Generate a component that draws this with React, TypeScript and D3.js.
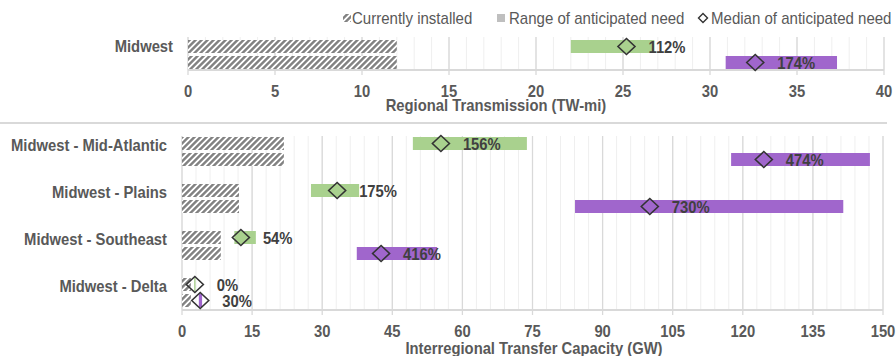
import React from "react";
import * as d3 from "d3";

// ---------- data ----------
const regionCategories = ["Midwest"];
const regionInstalled = [12.0];
const regionGreenLow = [22.0];
const regionGreenHigh = [26.8];
const regionGreenMedian = [25.2];
const regionGreenLabel = ["112%"];
const regionPurpleLow = [30.9];
const regionPurpleHigh = [37.3];
const regionPurpleMedian = [32.6];
const regionPurpleLabel = ["174%"];
const regionTicks = [0, 5, 10, 15, 20, 25, 30, 35, 40];

const categories = ["Midwest - Mid-Atlantic", "Midwest - Plains", "Midwest - Southeast", "Midwest - Delta"];
const installed = [21.8, 12.2, 8.3, 1.9];
const greenLow = [49.4, 27.6, 11.2, 2.6];
const greenHigh = [73.8, 37.9, 15.8, 2.9];
const greenMedian = [55.4, 33.2, 12.6, 2.75];
const greenLabel = ["156%", "175%", "54%", "0%"];
const purpleLow = [117.5, 84.1, 37.4, 3.6];
const purpleHigh = [147.2, 141.5, 54.6, 4.3];
const purpleMedian = [124.5, 100.1, 42.6, 3.9];
const purpleLabel = ["474%", "730%", "416%", "30%"];
const transferTicks = [0, 15, 30, 45, 60, 75, 90, 105, 120, 135, 150];

const legendLabels = ["Currently installed", "Range of anticipated need", "Median of anticipated need"];

// ---------- styles ----------
const FONT = "'Liberation Sans', Arial, sans-serif";
const GREEN = "#a9d18e";
const PURPLE = "#a066cc";
const TEXT = "#595959";
const LABEL = "#404040";
const GRID_MAJOR = "#d9d9d9";
const GRID_MINOR = "#efefef";
const SX = 0.87;

function T({ x, y, anchor = "start", size = 17, bold = true, fill = TEXT, sx = SX, children }: any) {
  return (
    <text
      transform={`translate(${x},${y}) scale(${sx},1)`}
      textAnchor={anchor}
      fontWeight={bold ? "bold" : "normal"}
      fontSize={size}
      fill={fill}
    >
      {children}
    </text>
  );
}

function Diamond({ x, y }: { x: number; y: number }) {
  const rx = 8.5;
  const ry = 8;
  return (
    <path
      d={`M${x},${y - ry}L${x + rx},${y}L${x},${y + ry}L${x - rx},${y}Z`}
      fill="none"
      stroke="#333"
      strokeWidth={1.6}
    />
  );
}

function Grid({ x, minorStep, majorTicks, y0, y1 }: any) {
  const [d0, d1] = x.domain();
  const minor = d3.range(d0, d1 + 1e-9, minorStep);
  return (
    <g>
      {minor.map((v: number) => (
        <line key={"m" + v} x1={x(v)} x2={x(v)} y1={y0} y2={y1} stroke={GRID_MINOR} strokeWidth={1} />
      ))}
      {majorTicks.map((v: number) => (
        <line key={"M" + v} x1={x(v)} x2={x(v)} y1={y0} y2={y1} stroke={GRID_MAJOR} strokeWidth={1.3} />
      ))}
    </g>
  );
}

function Axis({ x, ticks, y, tickY }: any) {
  const [r0, r1] = x.range();
  return (
    <g>
      <line x1={r0} x2={r1} y1={y} y2={y} stroke={GRID_MAJOR} strokeWidth={2} />
      {ticks.map((v: number) => (
        <g key={v}>
          <line x1={x(v)} x2={x(v)} y1={y} y2={y + 5} stroke={GRID_MAJOR} strokeWidth={1.3} />
          <T x={x(v)} y={tickY} anchor="middle">
            {v}
          </T>
        </g>
      ))}
    </g>
  );
}

function Rows({ x, cy, inst, gl, gh, gm, glab, pl, ph, pm, plab }: any) {
  const h = 13;
  const gy = cy - 14;
  const py = cy + 2;
  return (
    <g>
      <rect x={x(0)} y={gy} width={x(inst) - x(0)} height={h} fill="url(#hatch)" />
      <rect x={x(0)} y={py} width={x(inst) - x(0)} height={h} fill="url(#hatch)" />
      <rect x={x(gl)} y={gy} width={Math.max(1, x(gh) - x(gl))} height={h} fill={GREEN} />
      <rect x={x(pl)} y={py} width={Math.max(1, x(ph) - x(pl))} height={h} fill={PURPLE} />
      <Diamond x={x(gm)} y={gy + h / 2} />
      <Diamond x={x(pm)} y={py + h / 2} />
      <T x={x(gm) + 22} y={gy + h / 2 + 6.5} fill={LABEL}>
        {glab}
      </T>
      <T x={x(pm) + 22} y={py + h / 2 + 6.5} fill={LABEL}>
        {plab}
      </T>
    </g>
  );
}

export default function App() {
  const W = 896;
  const H = 356;

  // top panel
  const xTop = d3.scaleLinear().domain([0, 40]).range([188, 884]);
  const yTop = d3.scaleBand().domain(regionCategories).range([37, 70]);
  // bottom panel
  const xBot = d3.scaleLinear().domain([0, 150]).range([182, 883]);
  const yBot = d3.scaleBand().domain(categories).range([127.5, 315.5]);

  return (
    <svg width={W} height={H} style={{ position: "absolute", left: 0, top: 0 }} fontFamily={FONT}>
      <defs>
        <pattern id="hatch" patternUnits="userSpaceOnUse" width={4.24} height={4.24} patternTransform="rotate(45)">
          <rect x={0} y={0} width={4.24} height={4.24} fill="#fff" />
          <rect x={0} y={0} width={2.4} height={4.24} fill="#7f7f7f" />
        </pattern>
      </defs>
      <rect width={W} height={H} fill="#fff" />

      {/* legend */}
      <g>
        <rect x={343} y={14} width={8} height={8} fill="url(#hatch)" />
        <T x={352} y={24} bold={false} size={16} sx={0.94}>{legendLabels[0]}</T>
        <rect x={497} y={14} width={8} height={8} fill="#bfbfbf" />
        <T x={509} y={24} bold={false} size={16} sx={0.94}>{legendLabels[1]}</T>
        <path d="M703,13.5L707.5,18L703,22.5L698.5,18Z" fill="none" stroke="#333" strokeWidth={1.4} />
        <T x={711} y={24} bold={false} size={16} sx={0.94}>{legendLabels[2]}</T>
      </g>

      {/* top panel */}
      <Grid x={xTop} minorStep={1} majorTicks={regionTicks} y0={37} y1={70} />
      <Axis x={xTop} ticks={regionTicks} y={70} tickY={97} />
      {regionCategories.map((c, i) => {
        const cy = (yTop(c) as number) + yTop.bandwidth() / 2;
        return (
          <g key={c}>
            <T x={173} y={cy - 1.5} anchor="end">
              {c}
            </T>
            <Rows
              x={xTop}
              cy={cy + 0.5}
              inst={regionInstalled[i]}
              gl={regionGreenLow[i]}
              gh={regionGreenHigh[i]}
              gm={regionGreenMedian[i]}
              glab={regionGreenLabel[i]}
              pl={regionPurpleLow[i]}
              ph={regionPurpleHigh[i]}
              pm={regionPurpleMedian[i]}
              plab={regionPurpleLabel[i]}
            />
          </g>
        );
      })}
      <T x={496} y={111} anchor="middle">
        Regional Transmission (TW-mi)
      </T>

      {/* separator */}
      <line x1={0} x2={887} y1={123} y2={123} stroke={GRID_MAJOR} strokeWidth={2} />

      {/* bottom panel */}
      <Grid x={xBot} minorStep={3} majorTicks={transferTicks} y0={136} y1={310} />
      <Axis x={xBot} ticks={transferTicks} y={310} tickY={337} />
      {categories.map((c, i) => {
        const cy = (yBot(c) as number) + yBot.bandwidth() / 2;
        return (
          <g key={c}>
            <T x={167} y={cy - 0.5} anchor="end">
              {c}
            </T>
            <Rows
              x={xBot}
              cy={cy}
              inst={installed[i]}
              gl={greenLow[i]}
              gh={greenHigh[i]}
              gm={greenMedian[i]}
              glab={greenLabel[i]}
              pl={purpleLow[i]}
              ph={purpleHigh[i]}
              pm={purpleMedian[i]}
              plab={purpleLabel[i]}
            />
          </g>
        );
      })}
      <T x={534} y={354} anchor="middle">
        Interregional Transfer Capacity (GW)
      </T>
    </svg>
  );
}
